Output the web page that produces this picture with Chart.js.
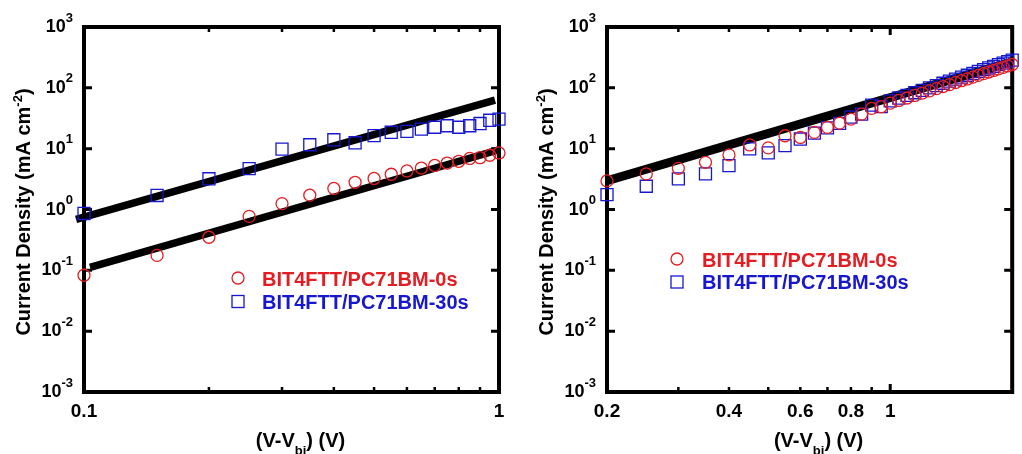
<!DOCTYPE html>
<html>
<head>
<meta charset="utf-8">
<script src="https://cdn.jsdelivr.net/npm/chart.js@4.4.1/dist/chart.umd.min.js"></script>
<style>
  html, body { margin: 0; padding: 0; background: #fff; }
  #wrap { position: relative; width: 1022px; height: 454px; overflow: hidden; }
  canvas { position: absolute; top: 0; }
</style>
</head>
<body>
<div id="wrap">
  <canvas id="jvLow" width="520" height="454" style="left:0"></canvas>
  <canvas id="jvHigh" width="502" height="454" style="left:520px"></canvas>
</div>
<script>
// ---- measured J-V data (current density in mA cm^-2) ----
const biasLow = [0.1, 0.15, 0.2, 0.25, 0.3, 0.35, 0.4, 0.45, 0.5, 0.55, 0.6, 0.65, 0.7, 0.75, 0.8, 0.85, 0.9, 0.95, 1.0];
const jLow0s  = [0.083, 0.176, 0.35, 0.77, 1.25, 1.72, 2.22, 2.8, 3.24, 3.8, 4.3, 4.8, 5.3, 5.8, 6.2, 6.9, 7.1, 7.8, 8.5];
const jLow30s = [0.86, 1.7, 3.2, 4.7, 9.8, 11.6, 14.0, 12.5, 16.4, 18.6, 19.2, 21.0, 22.5, 23.8, 22.5, 23.8, 25.9, 29.3, 30.5];

const biasHigh = [0.2, 0.25, 0.3, 0.35, 0.4, 0.45, 0.5, 0.55, 0.6, 0.65, 0.7, 0.75, 0.8, 0.85, 0.9, 0.95, 1.0,
                  1.05, 1.1, 1.15, 1.2, 1.25, 1.3, 1.35, 1.4, 1.45, 1.5, 1.55, 1.6, 1.65, 1.7, 1.75, 1.8, 1.85, 1.9, 1.95, 2.0];
const jHigh0s  = [2.95, 3.85, 4.75, 5.96, 7.9, 11.5, 10.3, 16.3, 15.3, 18.5, 22.4, 26.3, 30.6, 37, 46, 49, 56,
                  62, 68, 75, 82, 89, 97, 105, 113, 122, 131, 140, 150, 160, 171, 182, 193, 205, 217, 229, 242];
const jHigh30s = [1.76, 2.41, 3.19, 3.85, 5.25, 9.9, 8.5, 11.2, 14.4, 18, 21.9, 26, 33, 37, 52, 49, 61,
                  68, 75, 83, 91, 100, 109, 119, 129, 139, 150, 161, 173, 186, 199, 212, 226, 240, 254, 269, 285];

// ---- space-charge-limited fits (J ~ V^2) ----
const fitLow30sX = [0.0957, 0.978];
const fitLow30sY = [0.686, 63];
const fitLow0sX  = [0.1034, 1.0];
const fitLow0sY  = [0.112, 9.6];
const fitHighX   = [0.201, 2.0];
const fitHighY   = [3.0, 268];

// ---- axes ----
const yDecades   = [1e-3, 1e-2, 1e-1, 1e0, 1e1, 1e2, 1e3];
const yExponents = ['-3', '-2', '-1', '0', '1', '2', '3'];
const xLabelsLow  = [0.1, 1];
const xMinorLow   = [0.2, 0.3, 0.4, 0.5, 0.6, 0.7, 0.8, 0.9];
const xLabelsHigh = [0.2, 0.4, 0.6, 0.8, 1];
const xMinorHigh  = [0.3, 0.4, 0.5, 0.6, 0.7, 0.8, 0.9];
const xMajorHigh  = [1];

const legendNames = ['BIT4FTT/PC71BM-0s', 'BIT4FTT/PC71BM-30s'];

const RED = '#e41d22';
const BLUE = '#1717cf';
const FONT = '"Liberation Sans", Arial, Helvetica, sans-serif';

function pts(xs, ys) { return xs.map((x, i) => ({ x: x, y: ys[i] })); }

// draws "10" with a raised exponent, right-aligned at xRight
function drawPower(ctx, exp, xRight, y) {
  ctx.font = 'bold 18px ' + FONT;
  const wb = ctx.measureText('10').width;
  ctx.font = 'bold 13px ' + FONT;
  const we = ctx.measureText(exp).width;
  const x0 = xRight - wb - we;
  ctx.textAlign = 'left';
  ctx.textBaseline = 'alphabetic';
  ctx.font = 'bold 18px ' + FONT;
  ctx.fillText('10', x0, y + 5);
  ctx.font = 'bold 13px ' + FONT;
  ctx.fillText(exp, x0 + wb, y - 5.5);
}

// draws a run of [text, size, dy] pieces centred on cx
function drawRuns(ctx, runs, cx, baseY) {
  let total = 0;
  runs.forEach(r => { ctx.font = 'bold ' + r[1] + 'px ' + FONT; r.w = ctx.measureText(r[0]).width; total += r.w; });
  let x = cx - total / 2;
  ctx.textAlign = 'left';
  ctx.textBaseline = 'alphabetic';
  runs.forEach(r => {
    ctx.font = 'bold ' + r[1] + 'px ' + FONT;
    ctx.fillText(r[0], x, baseY + r[2]);
    x += r.w;
  });
}

const framePlugin = {
  id: 'frame',
  beforeDatasetsDraw(chart, args, opts) {
    const { ctx, chartArea: a, scales } = chart;
    ctx.save();
    ctx.strokeStyle = '#000';
    ctx.lineCap = 'butt';
    // y ticks on both sides
    ctx.lineWidth = 3;
    yDecades.forEach(v => {
      const y = scales.y.getPixelForValue(v);
      ctx.beginPath();
      ctx.moveTo(a.left, y); ctx.lineTo(a.left + 8, y);
      ctx.moveTo(a.right, y); ctx.lineTo(a.right - 8, y);
      ctx.stroke();
    });
    // x ticks top and bottom
    ctx.lineWidth = 2.5;
    opts.minor.forEach(v => {
      const x = scales.x.getPixelForValue(v);
      ctx.beginPath();
      ctx.moveTo(x, a.top); ctx.lineTo(x, a.top + 5);
      ctx.moveTo(x, a.bottom); ctx.lineTo(x, a.bottom - 5);
      ctx.stroke();
    });
    ctx.lineWidth = 3;
    (opts.major || []).forEach(v => {
      const x = scales.x.getPixelForValue(v);
      ctx.beginPath();
      ctx.moveTo(x, a.top); ctx.lineTo(x, a.top + 8);
      ctx.moveTo(x, a.bottom); ctx.lineTo(x, a.bottom - 8);
      ctx.stroke();
    });
    // box
    ctx.lineWidth = 4;
    ctx.strokeRect(a.left, a.top, a.right - a.left, a.bottom - a.top);
    ctx.restore();
  },
  afterDraw(chart, args, opts) {
    const { ctx, chartArea: a, scales } = chart;
    ctx.save();
    ctx.fillStyle = '#000';
    // y tick labels
    yDecades.forEach((v, i) => drawPower(ctx, yExponents[i], a.left - 11, scales.y.getPixelForValue(v)));
    // x tick labels
    ctx.font = 'bold 19px ' + FONT;
    ctx.textAlign = 'center';
    ctx.textBaseline = 'alphabetic';
    opts.labels.forEach(v => ctx.fillText(String(v), scales.x.getPixelForValue(v), 417));
    // x title
    drawRuns(ctx, [['(V-V', 20, 0], ['bi', 13, 8], [') (V)', 20, 0]], (a.left + a.right) / 2 + 9, 446.5);
    // y title
    ctx.save();
    ctx.translate(a.left - 54, 212);
    ctx.rotate(-Math.PI / 2);
    drawRuns(ctx, [['Current Density (mA cm', 20, 0], ['-2', 13, -8], [')', 20, 0]], 0, 0);
    ctx.restore();
    // legend
    const L = opts.legend;
    ctx.lineWidth = 1.3;
    ctx.strokeStyle = RED;
    ctx.beginPath();
    ctx.arc(L.x, L.y, 6, 0, Math.PI * 2);
    ctx.stroke();
    ctx.strokeStyle = BLUE;
    ctx.strokeRect(L.x - 6, L.y + L.dy - 6, 12, 12);
    ctx.font = 'bold 20px ' + FONT;
    ctx.textAlign = 'left';
    ctx.fillStyle = RED;
    ctx.fillText(legendNames[0], L.tx, L.y + 8.3);
    ctx.fillStyle = BLUE;
    ctx.fillText(legendNames[1], L.tx, L.y + L.dy + 7.3);
    ctx.restore();
  }
};

function makePanel(id, cfg) {
  const datasets = [
    {
      label: legendNames[0], data: pts(cfg.x, cfg.j0), showLine: false,
      pointStyle: 'circle', pointRadius: 6, borderWidth: 1.3,
      borderColor: RED, backgroundColor: 'rgba(0,0,0,0)', clip: false
    },
    {
      label: legendNames[1], data: pts(cfg.x, cfg.j30), showLine: false,
      pointStyle: 'rect', pointRadius: 8.5, borderWidth: 1.3,
      borderColor: BLUE, backgroundColor: 'rgba(0,0,0,0)', clip: false
    }
  ];
  cfg.fits.forEach(f => datasets.push({
    label: 'fit', data: pts(f[0], f[1]), showLine: true, pointRadius: 0,
    borderColor: '#000', borderWidth: cfg.fitWidth, borderCapStyle: 'butt', clip: false
  }));
  return new Chart(document.getElementById(id), {
    type: 'scatter',
    data: { datasets: datasets },
    options: {
      responsive: false, animation: false, devicePixelRatio: 1, events: [],
      layout: { padding: cfg.padding },
      plugins: {
        legend: { display: false }, tooltip: { enabled: false },
        frame: { minor: cfg.minor, major: cfg.major, labels: cfg.labels, legend: cfg.legend }
      },
      scales: {
        x: { type: 'logarithmic', min: cfg.xmin, max: cfg.xmax, display: false },
        y: { type: 'logarithmic', min: 1e-3, max: 1e3, display: false }
      }
    },
    plugins: [framePlugin]
  });
}

makePanel('jvLow', {
  x: biasLow, j0: jLow0s, j30: jLow30s,
  fits: [[fitLow30sX, fitLow30sY], [fitLow0sX, fitLow0sY]], fitWidth: 7.5,
  xmin: 0.1, xmax: 1,
  padding: { left: 84, right: 21, top: 27, bottom: 62 },
  minor: xMinorLow, major: [], labels: xLabelsLow,
  legend: { x: 238, y: 278, dy: 23.5, tx: 262 }
});

makePanel('jvHigh', {
  x: biasHigh, j0: jHigh0s, j30: jHigh30s,
  fits: [[fitHighX, fitHighY]], fitWidth: 9,
  xmin: 0.2, xmax: 2,
  padding: { left: 87, right: 2, top: 27, bottom: 62 },
  minor: xMinorHigh, major: xMajorHigh, labels: xLabelsHigh,
  legend: { x: 157, y: 259, dy: 23, tx: 182 }
});
</script>
</body>
</html>
